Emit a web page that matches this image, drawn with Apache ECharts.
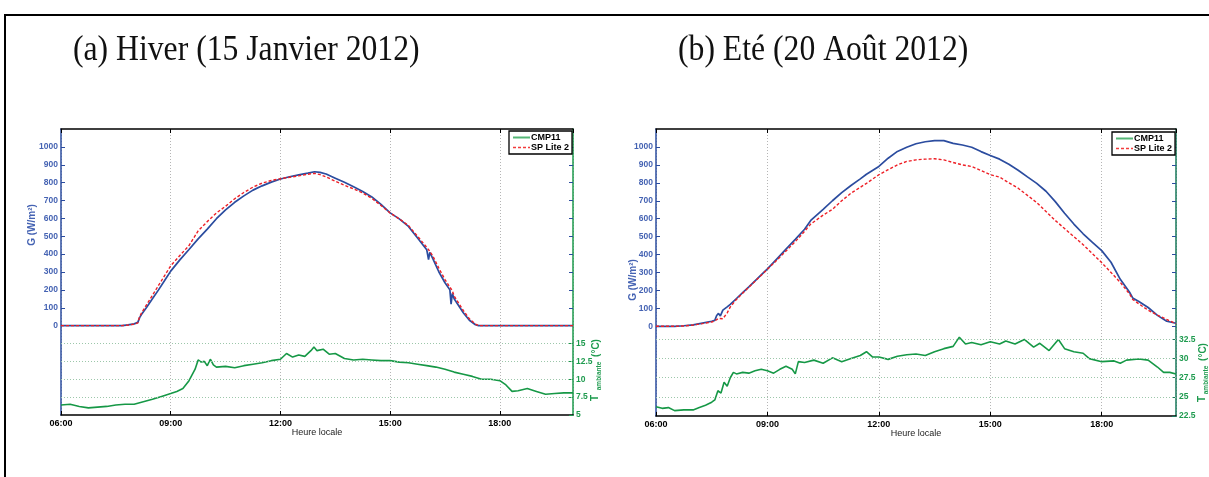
<!DOCTYPE html>
<html><head><meta charset="utf-8">
<script src="https://cdn.jsdelivr.net/npm/echarts@6/dist/echarts.min.js"></script>
<style>html,body{margin:0;padding:0;background:#fff}#c{width:1209px;height:477px}</style>
</head><body><div id="c"></div>
<script>
// ---------- data ----------
const titles = ['(a) Hiver (15 Janvier 2012)', '(b) Eté (20 Août 2012)'];
const xTickLabels = ['06:00', '09:00', '12:00', '15:00', '18:00'];
const xAxisName = 'Heure locale';
const gAxisName = 'G (W/m²)';
const gTicks = [0, 100, 200, 300, 400, 500, 600, 700, 800, 900, 1000];
const winterTempTicks = [5, 7.5, 10, 12.5, 15];
const summerTempTicks = [22.5, 25, 27.5, 30, 32.5];
const winterTempGrid = [7.5, 10, 12.5, 15];
const summerTempGrid = [25, 27.5, 30, 32.5];
const legendNames = ['CMP11', 'SP Lite 2'];

const winterTimeG = ['06:00','07:00','07:40','07:50','08:00','08:06','08:09','08:12','08:20','08:30','08:40','08:50','09:00','09:15','09:30','09:45','10:00','10:15','10:30','10:45','11:00','11:15','11:30','11:45','12:00','12:15','12:30','12:45','12:56','13:05','13:15','13:30','13:45','14:00','14:15','14:30','14:45','15:00','15:15','15:30','15:45','16:00','16:03','16:05','16:10','16:20','16:30','16:38','16:40','16:42','16:45','17:00','17:10','17:20','17:25','18:00','19:00','20:00'];
const winterCMP11 = [0,0,0,4,10,18,45,62,100,150,200,252,305,368,426,485,540,598,648,690,726,758,782,803,820,833,843,853,861,857,848,825,802,777,750,720,678,631,597,555,490,425,370,410,375,300,240,200,120,180,150,72,30,5,0,0,0,0];
const winterSPLite2 = [0,0,0,3,8,15,50,70,115,170,225,280,335,392,448,530,582,630,668,710,745,775,797,812,822,830,838,847,852,845,832,808,785,765,742,712,672,630,597,560,500,438,425,415,390,320,258,215,205,195,165,85,38,8,0,0,0,0];

const winterTimeT = ['06:00','06:15','06:30','06:45','07:00','07:15','07:30','07:45','08:00','08:15','08:30','08:45','09:00','09:10','09:20','09:30','09:40','09:45','09:50','09:55','10:00','10:05','10:10','10:15','10:30','10:45','11:00','11:15','11:30','11:45','12:00','12:10','12:20','12:30','12:40','12:50','12:55','13:00','13:10','13:20','13:30','13:45','14:00','14:15','14:30','14:45','15:00','15:15','15:30','15:45','16:00','16:15','16:30','16:45','17:00','17:15','17:30','17:45','18:00','18:10','18:20','18:30','18:45','19:00','19:15','19:30','19:45','20:00'];
const winterTamb = [6.4,6.5,6.2,6.0,6.1,6.2,6.4,6.5,6.5,6.85,7.2,7.6,8.0,8.3,8.7,9.8,11.4,12.7,12.4,12.5,11.9,12.8,12.0,11.7,11.8,11.6,11.9,12.1,12.3,12.6,12.8,13.6,13.1,13.4,13.2,14.0,14.5,14.0,14.2,13.5,13.6,12.9,12.7,12.8,12.7,12.6,12.6,12.4,12.3,12.1,11.9,11.7,11.4,11.0,10.7,10.4,10.0,10.0,9.8,9.2,8.3,8.4,8.7,8.3,7.9,8.0,8.1,8.1];

const summerTimeG = ['06:00','06:30','06:45','07:00','07:15','07:30','07:35','07:38','07:41','07:44','07:48','07:55','08:00','08:10','08:20','08:30','08:45','09:00','09:15','09:30','09:45','10:00','10:10','10:30','10:45','11:00','11:15','11:30','11:40','12:00','12:15','12:30','12:45','13:00','13:15','13:30','13:45','14:00','14:15','14:30','14:45','15:00','15:15','15:30','15:45','16:00','16:15','16:30','16:45','17:00','17:15','17:30','17:45','18:00','18:15','18:30','18:45','18:50','19:00','19:15','19:30','19:45','20:00'];
const summerCMP11 = [0,0,3,8,18,28,33,60,72,58,90,108,122,155,188,220,270,320,375,430,485,541,590,652,700,745,785,822,848,891,937,975,998,1018,1029,1035,1035,1020,1011,998,974,952,932,903,870,833,797,753,695,630,570,516,468,422,357,262,190,158,138,105,61,28,17];
const summerSPLite2 = [0,0,2,7,15,24,30,38,44,40,42,75,108,150,185,218,268,318,368,420,472,530,570,620,652,700,742,775,797,845,873,900,919,928,932,934,928,913,900,891,869,845,832,800,770,730,690,640,590,545,500,455,405,355,300,245,180,150,125,90,62,38,15];

const summerTimeT = ['06:00','06:10','06:20','06:30','06:45','07:00','07:10','07:20','07:30','07:35','07:40','07:45','07:50','07:55','08:00','08:05','08:10','08:20','08:30','08:40','08:50','09:00','09:10','09:20','09:30','09:40','09:45','09:50','10:00','10:15','10:30','10:45','11:00','11:15','11:30','11:40','11:50','12:00','12:15','12:30','12:45','13:00','13:15','13:30','13:45','14:00','14:10','14:20','14:30','14:45','15:00','15:15','15:25','15:40','15:55','16:10','16:20','16:35','16:50','17:00','17:15','17:30','17:40','18:00','18:20','18:30','18:40','19:00','19:15','19:30','19:40','19:50','20:00'];
const summerTamb = [23.7,23.5,23.6,23.2,23.3,23.3,23.6,23.9,24.3,24.6,25.8,25.5,26.9,26.4,27.5,28.2,28.0,28.2,28.1,28.4,28.6,28.4,28.1,28.6,29.0,28.6,28.0,29.6,29.5,29.8,29.4,30.1,29.6,30.0,30.4,30.9,30.2,30.2,29.9,30.3,30.5,30.6,30.4,30.9,31.3,31.6,32.8,31.9,32.1,31.8,32.2,31.9,32.3,31.9,32.5,31.5,32.0,31.05,32.5,31.3,30.9,30.7,30.0,29.6,29.7,29.4,29.8,29.95,29.8,28.9,28.2,28.2,28.0];

// ---------- helpers ----------
const toH = s => { const [h, m] = s.split(':').map(Number); return h + m / 60; };
const pairs = (times, vals) => times.map((t, i) => [toH(t), vals[i]]);

const BLUE = '#2b4c9f', BLUE_TXT = '#4563b3', RED = '#ee1f26', GREEN = '#169846', GREEN_TXT = '#1f9b4f';
const FONT = "'Liberation Sans', Arial, sans-serif";

const grids = [
  { left: 61, top: 129, width: 512, height: 286 },
  { left: 656, top: 129, width: 520, height: 287 }
];

function xAxes(gi) {
  return [
    { type: 'value', gridIndex: gi, position: 'bottom', min: 6, max: 20, interval: 3,
      axisLine: { onZero: false, lineStyle: { color: '#000', width: 1.5 } },
      axisTick: { inside: true, length: 4, lineStyle: { color: '#000' } },
      axisLabel: { formatter: v => xTickLabels[Math.round((v - 6) / 3)] || '', showMaxLabel: false,
        fontFamily: FONT, fontWeight: 'bold', fontSize: 9, color: '#000', margin: 4 },
      splitLine: { show: true, lineStyle: { type: [1, 2], color: '#b5b5b5', width: 1 } },
      name: xAxisName, nameLocation: 'middle', nameGap: 13, nameMoveOverlap: false,
      nameTextStyle: { fontFamily: FONT, fontSize: 9, color: '#222' } },
    { type: 'value', gridIndex: gi, position: 'top', min: 6, max: 20, interval: 3,
      axisLine: { onZero: false, lineStyle: { color: '#000', width: 1.5 } },
      axisTick: { inside: true, length: 4, lineStyle: { color: '#000' } },
      axisLabel: { show: false }, splitLine: { show: false } }
  ];
}

function yAxes(gi, tMin, tMax, tTicks, rightColor) {
  return [
    { type: 'value', gridIndex: gi, position: 'left', min: -500, max: 1100, interval: 100,
      axisLine: { show: true, onZero: false, lineStyle: { color: BLUE, width: 1.5 } },
      axisTick: { show: true, inside: true, length: 4, customValues: gTicks, lineStyle: { color: BLUE } },
      axisLabel: { customValues: gTicks, formatter: v => (v < 0 || v > 1000) ? '' : String(v),
        fontFamily: FONT, fontWeight: 'bold', fontSize: 8.5, color: BLUE_TXT, margin: 3 },
      splitLine: { show: false } },
    { type: 'value', gridIndex: gi, position: 'right', min: -500, max: 1100, interval: 100,
      axisLine: { show: false, onZero: false },
      axisTick: { show: true, inside: true, length: 4, customValues: gTicks, lineStyle: { color: BLUE } },
      axisLabel: { show: false }, splitLine: { show: false } },
    { type: 'value', gridIndex: gi, position: 'right', min: tMin, max: tMax, interval: 2.5,
      axisLine: { show: true, onZero: false, lineStyle: { color: rightColor, width: 1.5 } },
      axisTick: { show: true, inside: true, length: 4, customValues: tTicks, lineStyle: { color: rightColor } },
      axisLabel: { customValues: tTicks, formatter: v => tTicks.indexOf(v) >= 0 ? String(v) : '',
        fontFamily: FONT, fontWeight: 'bold', fontSize: 8.5, color: GREEN_TXT, margin: 3 },
      splitLine: { show: false } }
  ];
}

function seriesFor(gi, tg, cmp, sp, tt, tamb, tGrid) {
  const xi = gi * 2, yi = gi * 3;
  return [
    { type: 'line', name: 'CMP11', xAxisIndex: xi, yAxisIndex: yi, data: pairs(tg, cmp),
      symbol: 'none', lineStyle: { color: BLUE, width: 1.7 }, itemStyle: { color: BLUE }, z: 3 },
    { type: 'line', name: 'SP Lite 2', xAxisIndex: xi, yAxisIndex: yi, data: pairs(tg, sp),
      symbol: 'none', lineStyle: { color: RED, width: 1.4, type: [3, 2] }, itemStyle: { color: RED }, z: 4 },
    { type: 'line', name: 'T ambiante', xAxisIndex: xi, yAxisIndex: yi + 2, data: pairs(tt, tamb),
      symbol: 'none', lineStyle: { color: GREEN, width: 1.6 }, itemStyle: { color: GREEN }, z: 3,
      markLine: { silent: true, symbol: 'none', label: { show: false }, animation: false,
        lineStyle: { type: [1, 2], color: '#9cc7aa', width: 1 },
        data: tGrid.map(v => ({ yAxis: v })) } }
  ];
}

const legendData = [
  { name: legendNames[0], itemStyle: { opacity: 0 }, lineStyle: { color: '#55b676', type: 'solid', width: 2 } },
  { name: legendNames[1], itemStyle: { opacity: 0 }, lineStyle: { color: '#f23c3c', type: [3, 2], width: 1.5 } }
];
function legendAt(left, top) {
  return { left, top, orient: 'vertical', data: legendData, selectedMode: false,
    backgroundColor: '#fff', borderColor: '#000', borderWidth: 1.3, padding: [2, 3, 2, 3],
    itemGap: 1, itemWidth: 17, itemHeight: 9,
    textStyle: { fontFamily: FONT, fontWeight: 'bold', fontSize: 9, color: '#000', padding: [0, 0, 0, -4] } };
}

function vText(x, y, text, size, color, weight) {
  return { type: 'text', x, y, rotation: Math.PI / 2, silent: true,
    style: { text, fontFamily: FONT, fontSize: size, fontWeight: weight || 'bold', fill: color,
      align: 'center', verticalAlign: 'middle' } };
}

const chart = echarts.init(document.getElementById('c'), null, { renderer: 'canvas' });
chart.setOption({
  animation: false,
  backgroundColor: '#fff',
  grid: grids,
  xAxis: [...xAxes(0), ...xAxes(1)],
  yAxis: [...yAxes(0, 5, 45, winterTempTicks, '#1c9a4c'), ...yAxes(1, 22.5, 60, summerTempTicks, '#17785a')],
  legend: [legendAt(509, 131), legendAt(1112, 132)],
  series: [
    ...seriesFor(0, winterTimeG, winterCMP11, winterSPLite2, winterTimeT, winterTamb, winterTempGrid),
    ...seriesFor(1, summerTimeG, summerCMP11, summerSPLite2, summerTimeT, summerTamb, summerTempGrid)
  ],
  graphic: [
    { type: 'rect', silent: true, shape: { x: 5, y: 15, width: 1240, height: 500 },
      style: { fill: 'none', stroke: '#000', lineWidth: 2 } },
    { type: 'text', x: 73, y: 51, scaleX: 0.88, silent: true,
      style: { text: titles[0], fontFamily: "'Liberation Serif', 'Times New Roman', serif", fontSize: 36,
        fill: '#111', align: 'left', verticalAlign: 'middle' } },
    { type: 'text', x: 678, y: 51, scaleX: 0.88, silent: true,
      style: { text: titles[1], fontFamily: "'Liberation Serif', 'Times New Roman', serif", fontSize: 36,
        fill: '#111', align: 'left', verticalAlign: 'middle' } },
    vText(32, 225, gAxisName, 10, BLUE_TXT),
    vText(633, 280, gAxisName, 10, BLUE_TXT),
    vText(595, 398, 'T', 10, GREEN_TXT),
    vText(599, 376, 'ambiante', 6.5, GREEN_TXT),
    vText(596, 348, '(°C)', 10, GREEN_TXT),
    vText(1202, 399, 'T', 10, GREEN_TXT),
    vText(1206, 380, 'ambiante', 6.5, GREEN_TXT),
    vText(1203, 352, '(°C)', 10, GREEN_TXT)
  ]
});
</script>
</body></html>
